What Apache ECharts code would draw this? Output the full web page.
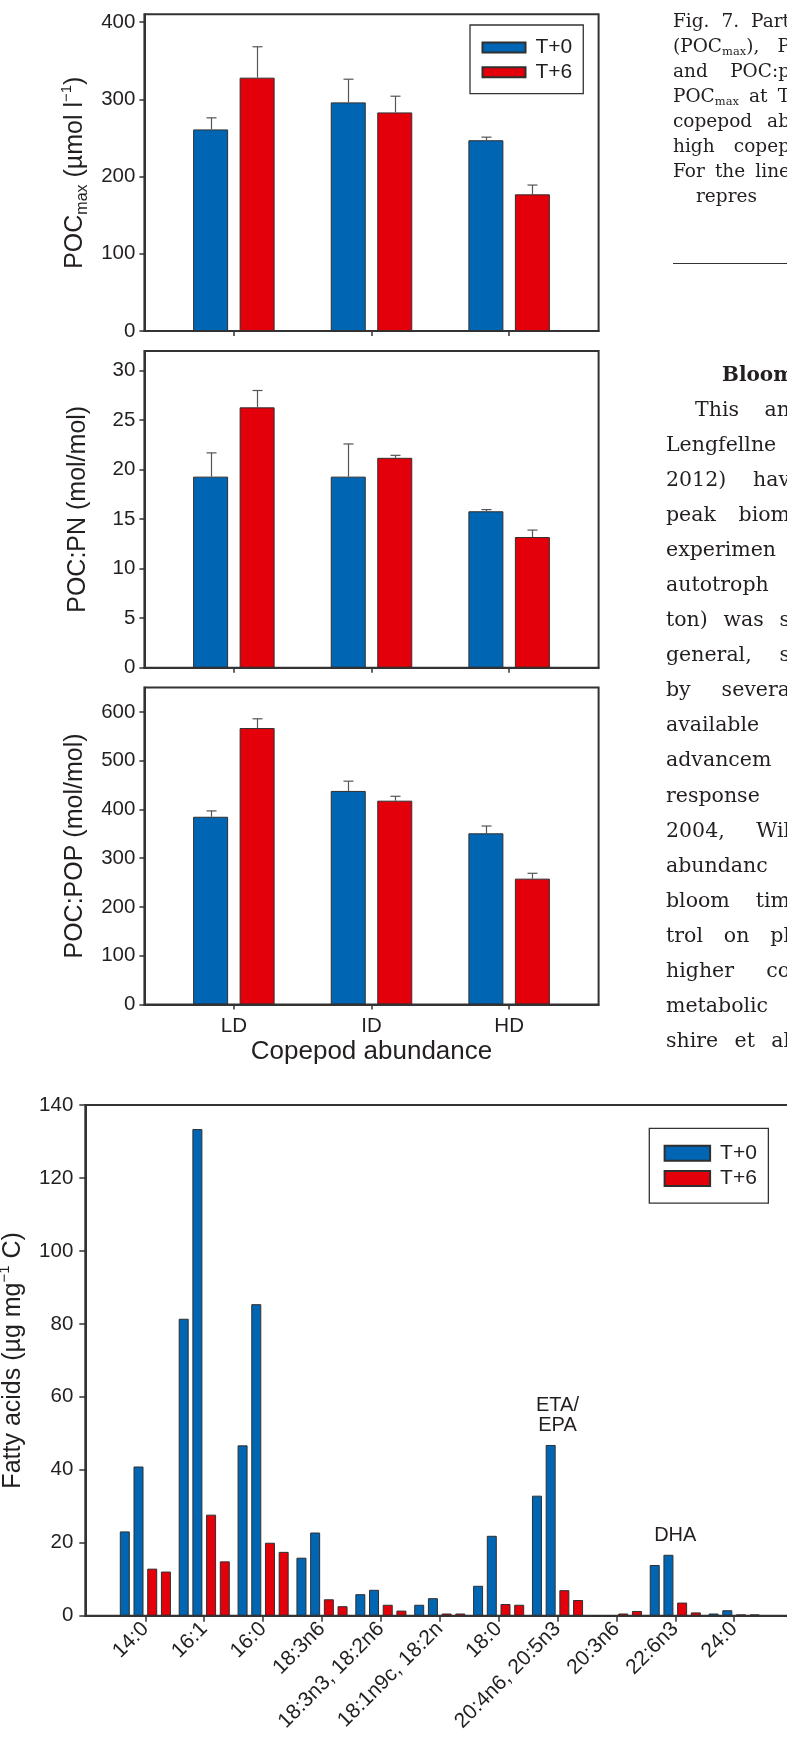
<!DOCTYPE html>
<html>
<head>
<meta charset="utf-8">
<script src="https://cdn.jsdelivr.net/npm/echarts@6/dist/echarts.min.js"></script>
<style>
  html, body { margin: 0; padding: 0; background: #fff; width: 787px; height: 1737px; overflow: hidden; }
  #chart { position: absolute; left: 0; top: 0; width: 820px; height: 1737px; }
  .col { position: absolute; font-family: 'DejaVu Serif', serif; color: #231f20; }
  .col div { white-space: nowrap; text-align: justify; text-align-last: justify; }
  .col sub { font-size: 0.62em; vertical-align: -0.25em; line-height: 0; }
  #caption { left: 673px; top: 7.5px; width: 117px; font-size: 18.5px; line-height: 25px; }
  #rule { position: absolute; left: 673px; top: 263px; width: 130px; height: 0; border-top: 1px solid #333; }
  #heading { position: absolute; left: 722px; top: 362px; font-family: 'DejaVu Serif', serif; font-weight: bold; font-size: 20px; color: #231f20; white-space: nowrap; }
  #prose { left: 666px; top: 391.5px; width: 124px; font-size: 20.5px; line-height: 35.1px; }
</style>
</head>
<body>
<div id="chart"></div>

<div id="caption" class="col">
  <div>Fig. 7. Part</div>
  <div>(POC<sub>max</sub>), P</div>
  <div>and POC:p</div>
  <div>POC<sub>max</sub> at T</div>
  <div>copepod ab</div>
  <div>high copep</div>
  <div>For the line</div>
  <div style="padding-left:23px;text-align-last:left;">repres</div>
</div>
<div id="rule"></div>
<div id="heading">Bloom</div>
<div id="prose" class="col">
  <div style="padding-left:29px;">This an</div>
  <div>Lengfellne</div>
  <div>2012) hav</div>
  <div>peak biom</div>
  <div>experimen</div>
  <div>autotroph</div>
  <div>ton) was s</div>
  <div>general, s</div>
  <div>by severa</div>
  <div style="text-align-last:left;">available</div>
  <div style="text-align-last:left;">advancem</div>
  <div style="text-align-last:left;">response</div>
  <div>2004, Wil</div>
  <div style="text-align-last:left;">abundanc</div>
  <div>bloom tim</div>
  <div>trol on pl</div>
  <div>higher co</div>
  <div style="text-align-last:left;">metabolic</div>
  <div>shire et al</div>
</div>

<script>
// ---- Copepod abundance treatments (upper three panels) ----
const GROUPS = ['LD', 'ID', 'HD'];

const POC_T0 = [261, 296, 247];
const POC_T0_SD = [15, 30, 4];
const POC_T6 = [328, 283, 177];
const POC_T6_SD = [40, 21, 12];
const POC_TICKS = [0, 100, 200, 300, 400];

const PN_T0 = [19.3, 19.3, 15.8];
const PN_T0_SD = [2.4, 3.3, 0.17];
const PN_T6 = [26.3, 21.2, 13.2];
const PN_T6_SD = [1.7, 0.25, 0.7];
const PN_TICKS = [0, 5, 10, 15, 20, 25, 30];

const POP_T0 = [385, 438, 351];
const POP_T0_SD = [12, 20, 15];
const POP_T6 = [567, 418, 258];
const POP_T6_SD = [19, 9, 11];
const POP_TICKS = [0, 100, 200, 300, 400, 500, 600];

// ---- Fatty acids (lower panel) ----
const FA_LABELS = ['14:0', '16:1', '16:0', '18:3n6', '18:3n3, 18:2n6', '18:1n9c, 18:2n',
                   '18:0', '20:4n6, 20:5n3', '20:3n6', '22:6n3', '24:0'];
const FA_T0_A = [23.1, 81.4, 46.7, 15.9, 5.9, 3.0, 8.2, 32.9, 0, 13.9, 0.6];
const FA_T0_B = [40.9, 133.4, 85.4, 22.8, 7.1, 4.8, 21.9, 46.8, 0, 16.7, 1.5];
const FA_T6_A = [12.9, 27.7, 20.0, 4.5, 3.0, 0.6, 3.2, 7.0, 0.6, 3.6, 0.35];
const FA_T6_B = [12.1, 14.9, 17.5, 2.6, 1.4, 0.6, 3.0, 4.3, 1.3, 0.9, 0.35];
const FA_TICKS = [0, 20, 40, 60, 80, 100, 120, 140];
const FA_NOTES = ['ETA/\nEPA', 'DHA'];
const FA_NOTE_AT = [7, 9];
const FA_NOTE_Y = [55, 22];

// ---- styling ----
const BLUE = '#0066b3';
const RED = '#e3000b';
const EDGE = '#2f2f2f';
const AXIS = '#333333';
const INK = '#231f20';
const SANS = "'Liberation Sans', Arial, Helvetica, sans-serif";

const CHART_W = 820;

// upper panels layout
const P_LEFT = 144.4, P_WIDTH = 454.2, P_HEIGHT = 316.8;
const P_TOPS = [14.3, 350.9, 687.6];
const P_XMIN = -0.65, P_XMAX = 2.65;
const P_BAR_W = 35, P_BAR_GAP = 11.5;

// lower panel layout
const F_LEFT = 85.3, F_TOP = 1105, F_HEIGHT = 510.7;
const F_UNIT = 58.88;              // px per category step
const F_XMIN = -1.02;
const F_XMAX = F_XMIN + (CHART_W - F_LEFT) / F_UNIT;
const F_BAR_W = 10, F_BAR_GAP = 3.7;

const nameRich = {
  sub: { fontSize: 16, fontFamily: SANS, color: INK, verticalAlign: 'bottom', lineHeight: 31 },
  sup: { fontSize: 15, fontFamily: SANS, color: INK, verticalAlign: 'top', lineHeight: 31 }
};

const panels = [
  { t0: POC_T0, e0: POC_T0_SD, t6: POC_T6, e6: POC_T6_SD, ticks: POC_TICKS, max: 410,
    name: 'POC{sub|max} (µmol l{sup|−1})', showX: false },
  { t0: PN_T0, e0: PN_T0_SD, t6: PN_T6, e6: PN_T6_SD, ticks: PN_TICKS, max: 32,
    name: 'POC:PN (mol/mol)', showX: false },
  { t0: POP_T0, e0: POP_T0_SD, t6: POP_T6, e6: POP_T6_SD, ticks: POP_TICKS, max: 650,
    name: 'POC:POP (mol/mol)', showX: true }
];

const grid = [], xAxis = [], yAxis = [], series = [];

// whisker drawn above a bar: stem from the mean up to mean + SD, with a short cap
function errorSeries(idx, name, means, sds, offset) {
  return {
    type: 'custom', name: name, xAxisIndex: idx, yAxisIndex: idx, z: 5,
    data: means.map((m, i) => [i, m, sds[i]]),
    renderItem: function (params, api) {
      const base = api.coord([api.value(0), api.value(1)]);
      const top = api.coord([api.value(0), api.value(1) + api.value(2)]);
      const cx = Math.round(base[0] + offset) + 0.5;
      return {
        type: 'group',
        children: [
          { type: 'line', shape: { x1: cx, y1: base[1], x2: cx, y2: top[1] },
            style: { stroke: '#555', lineWidth: 1.2 } },
          { type: 'line', shape: { x1: cx - 5, y1: top[1], x2: cx + 5, y2: top[1] },
            style: { stroke: '#555', lineWidth: 1.2 } }
        ]
      };
    }
  };
}

panels.forEach((p, i) => {
  grid.push({ left: P_LEFT, top: P_TOPS[i], width: P_WIDTH, height: P_HEIGHT,
              outerBoundsMode: 'none', containLabel: false,
              show: true, borderColor: AXIS, borderWidth: 2, backgroundColor: 'transparent' });
  xAxis.push({
    type: 'value', gridIndex: i, min: P_XMIN, max: P_XMAX,
    axisLine: { show: true, onZero: false, lineStyle: { color: AXIS, width: 2 } },
    axisTick: { show: true, customValues: [0, 1, 2], length: 5, lineStyle: { color: AXIS, width: 1.5 } },
    axisLabel: { show: p.showX, customValues: [0, 1, 2], formatter: v => GROUPS[Math.round(v)],
                 fontSize: 20.5, fontFamily: SANS, color: INK, margin: 11 },
    splitLine: { show: false },
    name: p.showX ? 'Copepod abundance' : '', nameLocation: 'middle', nameGap: 34,
    nameTextStyle: { fontSize: 26, fontFamily: SANS, color: INK }
  });
  yAxis.push({
    type: 'value', gridIndex: i, min: 0, max: p.max,
    axisLine: { show: true, onZero: false, lineStyle: { color: AXIS, width: 2 } },
    axisTick: { show: true, customValues: p.ticks, length: 5, lineStyle: { color: AXIS, width: 1.5 } },
    axisLabel: { customValues: p.ticks, fontSize: 20.5, fontFamily: SANS, color: INK, margin: 9 },
    splitLine: { show: false },
    name: p.name, nameLocation: 'middle', nameRotate: 90, nameGap: 51,
    nameTextStyle: { fontSize: 25, fontFamily: SANS, color: INK, lineHeight: 31, rich: nameRich }
  });
  const half = (P_BAR_W + P_BAR_GAP) / 2;
  const barCommon = { type: 'bar', xAxisIndex: i, yAxisIndex: i, barWidth: P_BAR_W,
                      barGap: (P_BAR_GAP / P_BAR_W * 100) + '%' };
  series.push(Object.assign({ name: 'T+0', data: p.t0.map((v, k) => [k, v]),
    itemStyle: { color: BLUE, borderColor: EDGE, borderWidth: 1 } }, barCommon));
  series.push(Object.assign({ name: 'T+6', data: p.t6.map((v, k) => [k, v]),
    itemStyle: { color: RED, borderColor: EDGE, borderWidth: 1 } }, barCommon));
  series.push(errorSeries(i, 'T+0 SD', p.t0, p.e0, -half));
  series.push(errorSeries(i, 'T+6 SD', p.t6, p.e6, half));
});

// lower panel
const F = 3;
grid.push({ left: F_LEFT, top: F_TOP, width: CHART_W - F_LEFT, height: F_HEIGHT,
            outerBoundsMode: 'none', containLabel: false,
            show: true, borderColor: AXIS, borderWidth: 2, backgroundColor: 'transparent' });
const faIdx = FA_LABELS.map((_, k) => k);
xAxis.push({
  type: 'value', gridIndex: F, min: F_XMIN, max: F_XMAX,
  axisLine: { show: true, onZero: false, lineStyle: { color: AXIS, width: 2 } },
  axisTick: { show: true, customValues: faIdx, length: 6, lineStyle: { color: AXIS, width: 1.5 } },
  axisLabel: { customValues: faIdx, formatter: v => FA_LABELS[Math.round(v)], rotate: 45,
               fontSize: 21, fontFamily: SANS, color: INK, margin: 10 },
  splitLine: { show: false }
});
yAxis.push({
  type: 'value', gridIndex: F, min: 0, max: 140,
  axisLine: { show: true, onZero: false, lineStyle: { color: AXIS, width: 2 } },
  axisTick: { show: true, customValues: FA_TICKS, length: 6, lineStyle: { color: AXIS, width: 1.5 } },
  axisLabel: { customValues: FA_TICKS, fontSize: 20.5, fontFamily: SANS, color: INK, margin: 12 },
  splitLine: { show: false },
  name: 'Fatty acids (µg mg{sup|−1} C)', nameLocation: 'middle', nameRotate: 90, nameGap: 50,
  nameTextStyle: { fontSize: 25, fontFamily: SANS, color: INK, lineHeight: 31, rich: nameRich }
});
const faBar = { type: 'bar', xAxisIndex: F, yAxisIndex: F, barWidth: F_BAR_W,
                barGap: (F_BAR_GAP / F_BAR_W * 100) + '%' };
[[FA_T0_A, 'T+0', BLUE], [FA_T0_B, 'T+0', BLUE], [FA_T6_A, 'T+6', RED], [FA_T6_B, 'T+6', RED]]
  .forEach(([vals, name, color]) => {
    series.push(Object.assign({ name: name, data: vals.map((v, k) => [k, v]),
      itemStyle: { color: color, borderColor: EDGE, borderWidth: 1 } }, faBar));
  });
// labels naming the highlighted fatty acids, placed in data space above their bars
series.push({
  type: 'custom', name: 'notes', xAxisIndex: F, yAxisIndex: F, silent: true, z: 6,
  data: FA_NOTES.map((t, k) => [FA_NOTE_AT[k], FA_NOTE_Y[k], t]),
  renderItem: function (params, api) {
    const pt = api.coord([api.value(0), api.value(1)]);
    return {
      type: 'text', x: pt[0], y: pt[1],
      style: { text: FA_NOTES[params.dataIndex], fill: INK, align: 'center', verticalAlign: 'middle',
               fontSize: 20, lineHeight: 20, fontFamily: SANS }
    };
  }
});

const legendBase = {
  data: ['T+0', 'T+6'], orient: 'vertical', icon: 'rect', selectedMode: false,
  borderColor: AXIS, borderWidth: 1.3, backgroundColor: '#fff',
  textStyle: { fontSize: 21, fontFamily: SANS, color: INK, lineHeight: 21, padding: [0, 0, 0, 5] }
};

const chart = echarts.init(document.getElementById('chart'), null,
  { renderer: 'canvas', width: CHART_W, height: 1737 });
chart.setOption({
  animation: false,
  backgroundColor: '#fff',
  grid: grid, xAxis: xAxis, yAxis: yAxis, series: series,
  legend: [
    Object.assign({}, legendBase, { left: 470, top: 25, itemWidth: 43, itemHeight: 10,
      itemGap: 3.7, padding: [12, 11, 11, 11.5] }),
    Object.assign({}, legendBase, { left: 649.3, top: 1128.3, itemWidth: 45.5, itemHeight: 15,
      itemGap: 4.3, padding: [14.5, 11.5, 14, 14.3] })
  ]
});
</script>
</body>
</html>
